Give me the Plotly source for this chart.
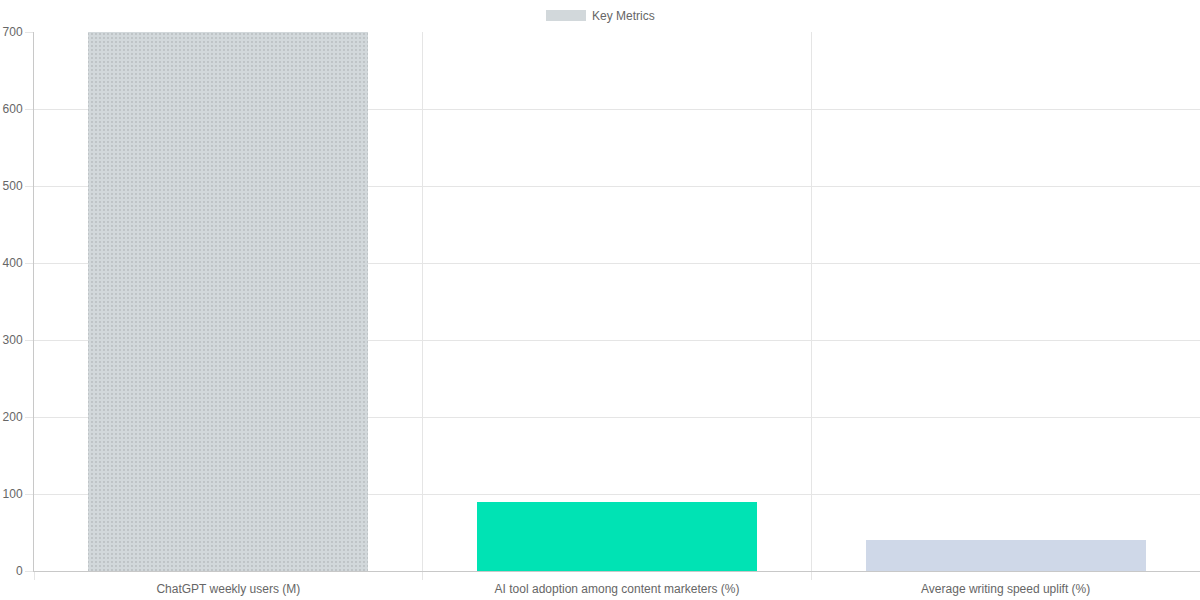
import plotly.graph_objects as go

categories = ["ChatGPT weekly users (M)",
              "AI tool adoption among content marketers (%)",
              "Average writing speed uplift (%)"]
values = [700, 90, 40]
bar_colors = ["#d2d8db", "#00e3b4", "#cfd8e8"]
series_name = "Key Metrics"
y_ticks = [0, 100, 200, 300, 400, 500, 600, 700]

grid = "#e5e5e5"
axis_line = "#c8c8c8"
txt = "#666666"

x_pos = list(range(len(categories)))

fig = go.Figure()
fig.add_trace(go.Bar(
    x=x_pos, y=values, name=series_name, width=0.72,
    marker=dict(color=bar_colors, line=dict(width=0),
                pattern=dict(shape=[".", "", ""], fgcolor="#bfc7cc",
                             fgopacity=0.35, size=4, solidity=0.1)),
    showlegend=False,
))

fig.update_layout(
    width=1200, height=600,
    margin=dict(l=34, r=0, t=32, b=29, pad=0, autoexpand=False),
    paper_bgcolor="white", plot_bgcolor="white",
    font=dict(family="Liberation Sans, Arial, sans-serif", size=12, color=txt),
    bargap=0,
    xaxis=dict(
        range=[-0.5, len(categories) - 0.5],
        tickvals=x_pos, ticktext=categories, automargin=False,
        showgrid=False, zeroline=False,
        ticks="outside", ticklen=7, tickcolor="rgba(0,0,0,0)",
        showline=True, linecolor=axis_line, linewidth=1,
        minor=dict(tick0=-0.5, dtick=1, showgrid=True, gridcolor=grid,
                   ticks="outside", ticklen=8, tickcolor=grid),
    ),
    yaxis=dict(
        range=[0, 700], tickvals=y_ticks, automargin=False,
        showgrid=True, gridcolor=grid, zeroline=False,
        ticks="outside", ticklen=8, tickcolor=grid,
        showline=True, linecolor=axis_line, linewidth=1,
    ),
)

# Chart.js-style legend box at the top
fig.add_shape(type="rect", xref="paper", yref="paper",
              x0=(546 - 34) / 1166, x1=(586 - 34) / 1166,
              y0=1 + (32 - 21) / 539, y1=1 + (32 - 10) / 539,
              fillcolor=bar_colors[0], line=dict(width=0))
fig.add_annotation(text=series_name, xref="paper", yref="paper",
                   x=(590 - 34) / 1166, y=1 + (32 - 15.5) / 539,
                   xanchor="left", yanchor="middle", showarrow=False,
                   font=dict(size=12, color=txt))

# drop the default 8px body margin so the chart fills the window
fig.write_html("out.html", config={"displayModeBar": False},
               post_script="document.body.style.margin='0';")
